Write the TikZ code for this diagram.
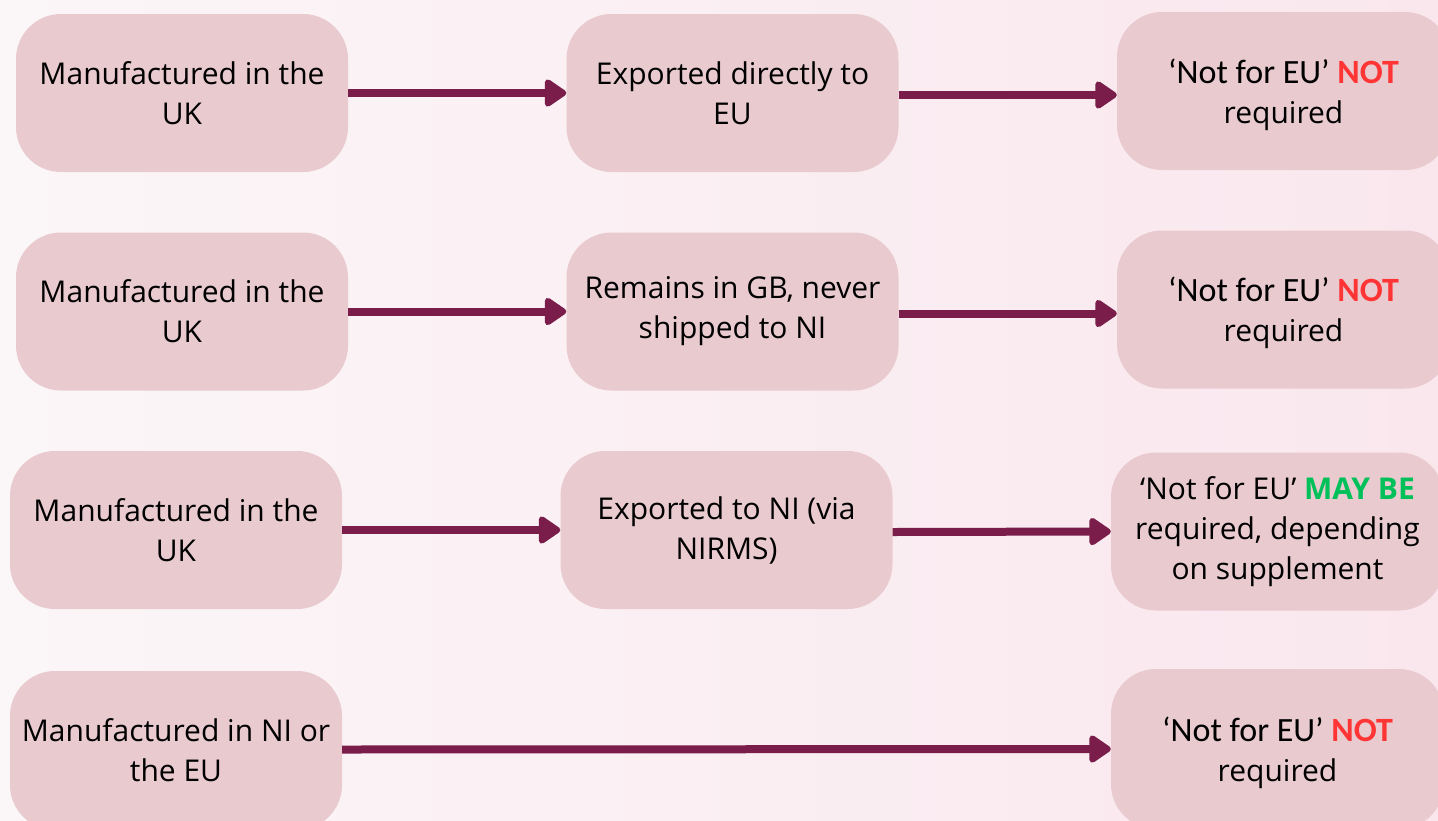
\documentclass[tikz,border=0pt]{standalone}
\usepackage{fontspec}
\setmainfont{Open Sans}
\newfontfamily\calfont{Carlito}
\usetikzlibrary{arrows.meta,calc}
\definecolor{bgL}{HTML}{FBF6F8}
\definecolor{bgR}{HTML}{FAE7EE}
\definecolor{boxfill}{HTML}{E8CACF}
\definecolor{arrowc}{HTML}{7A1D4A}
\definecolor{nored}{HTML}{FF3535}
\definecolor{maygreen}{HTML}{00C05A}
\tikzset{
  flowbox/.style={fill=boxfill, rounded corners=45pt, minimum width=332pt, minimum height=158pt,
    align=center, inner sep=0pt, font=\fontsize{30}{40}\selectfont},
  endbox/.style={flowbox, minimum width=333pt},
  flowarrow/.style={draw=arrowc, line width=8pt, -{Triangle[length=24pt,width=31pt,round]}},
}
\newcommand{\notfont}{\calfont\fontsize{34}{40}\selectfont\rule{0pt}{32pt}}
\begin{document}
\begin{tikzpicture}[x=1pt,y=-1pt]
\shade[left color=bgL, right color=bgR] (0,0) rectangle (1438,820);
\useasboundingbox (0,0) rectangle (1438,820);
% row 1
\node[flowbox] (A1) at (182,93) {Manufactured in the\\UK};
\node[flowbox] (B1) at (732.5,93) {Exported directly to\\EU};
\node[endbox] (C1) at (1283.5,91) {\notfont ‘Not for EU’ \textcolor{nored}{\textbf{NOT}}\\required};
% row 2
\node[flowbox] (A2) at (182,311.5) {Manufactured in the\\UK};
\node[flowbox] (B2) at (732.5,311.5) {Remains in GB, never\\shipped to NI};
\node[endbox] (C2) at (1283.5,309.5) {\notfont ‘Not for EU’ \textcolor{nored}{\textbf{NOT}}\\required};
% row 3
\node[flowbox] (A3) at (176,530) {Manufactured in the\\UK};
\node[flowbox] (B3) at (726.5,530) {Exported to NI (via\\NIRMS)};
\node[endbox] (C3) at (1277.5,531.5) {‘Not for EU’ \textcolor{maygreen}{\textbf{MAY BE}}\\required, depending\\on supplement};
% row 4
\node[flowbox, minimum height=159pt] (A4) at (176,750.5) {Manufactured in NI or\\the EU};
\node[endbox, minimum height=160pt] (C4) at (1277.5,749) {\notfont ‘Not for EU’ \textcolor{nored}{\textbf{NOT}}\\required};
% arrows
\draw[flowarrow] (A1.east) -- (B1.west);
\draw[flowarrow] ($(B1.east)+(0,2)$) -- ($(C1.west)+(0,4)$);
\draw[flowarrow] (A2.east) -- (B2.west);
\draw[flowarrow] ($(B2.east)+(0,2)$) -- ($(C2.west)+(0,4)$);
\draw[flowarrow] (A3.east) -- (B3.west);
\draw[flowarrow] ($(B3.east)+(0,2)$) -- (C3.west);
\draw[flowarrow] ($(A4.east)+(0,-1)$) -- (C4.west);
\end{tikzpicture}
\end{document}
